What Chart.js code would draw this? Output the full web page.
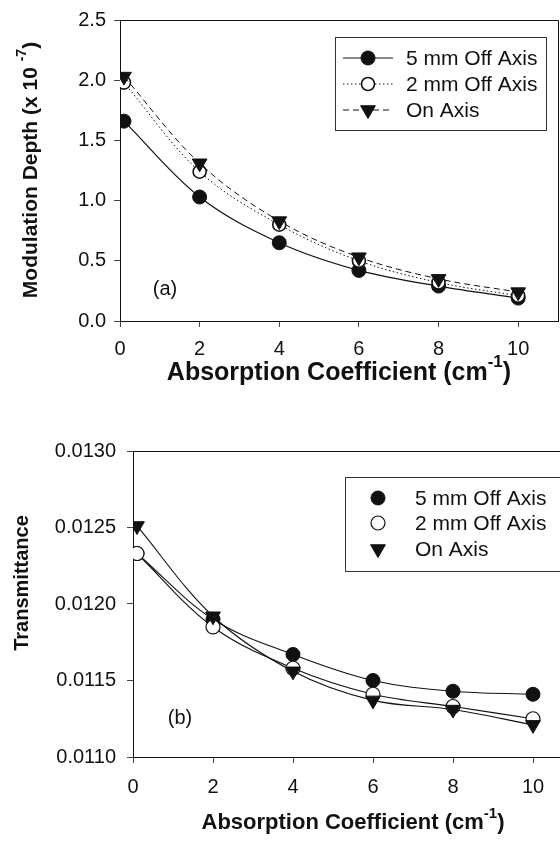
<!DOCTYPE html>
<html>
<head>
<meta charset="utf-8">
<script src="https://cdn.jsdelivr.net/npm/chart.js@4.4.1/dist/chart.umd.min.js"></script>
<style>
html, body { margin: 0; padding: 0; background: #fff; overflow: hidden; }
#page { position: relative; width: 560px; height: 842px; overflow: hidden; }
#topChart { position: absolute; left: 0; top: 0; }
#bottomChart { position: absolute; left: 0; top: 400px; }
</style>
</head>
<body>
<div id="page">
    <canvas id="topChart" width="560" height="400"></canvas>
    <canvas id="bottomChart" width="580" height="442"></canvas>
</div>
<script>
// ---- data ----
const xValues = [0.1, 2, 4, 6, 8, 10];
const xTicks = [0, 2, 4, 6, 8, 10];
const seriesLabels = ['5 mm Off Axis', '2 mm Off Axis', 'On Axis'];

// (a) modulation depth, x 10^-7
const depth5mm = [1.66, 1.03, 0.65, 0.42, 0.29, 0.19];
const depth2mm = [1.98, 1.24, 0.80, 0.50, 0.32, 0.21];
const depthOnAxis = [2.03, 1.31, 0.83, 0.53, 0.35, 0.24];
const depthTicks = [0, 0.5, 1.0, 1.5, 2.0, 2.5];

// (b) transmittance
const trans5mm = [0.01233, 0.01190, 0.01167, 0.01150, 0.01143, 0.01141];
const trans2mm = [0.01233, 0.01185, 0.01158, 0.01141, 0.01133, 0.01125];
const transOnAxis = [0.01251, 0.01192, 0.01156, 0.01137, 0.01131, 0.01121];
const transTicks = [0.0110, 0.0115, 0.0120, 0.0125, 0.0130];

const FONT = '"Liberation Sans", Arial, Helvetica, sans-serif';
const INK = '#111';

function points(ys) {
    return xValues.map((x, i) => ({ x: x, y: ys[i] }));
}

// draws a marker the same way chart.js does for circle / rotated triangle
function drawMarker(ctx, ds, x, y) {
    const r = ds.pointRadius;
    ctx.save();
    ctx.fillStyle = ds.pointBackgroundColor;
    ctx.strokeStyle = ds.pointBorderColor;
    ctx.lineWidth = ds.pointBorderWidth;
    ctx.setLineDash([]);
    ctx.beginPath();
    if (ds.pointStyle === 'triangle') {
        let rad = (ds.pointRotation || 0) * Math.PI / 180;
        ctx.moveTo(x + Math.sin(rad) * r, y - Math.cos(rad) * r);
        rad += 2 * Math.PI / 3;
        ctx.lineTo(x + Math.sin(rad) * r, y - Math.cos(rad) * r);
        rad += 2 * Math.PI / 3;
        ctx.lineTo(x + Math.sin(rad) * r, y - Math.cos(rad) * r);
        ctx.closePath();
    } else {
        ctx.arc(x, y, r, 0, Math.PI * 2);
    }
    ctx.fill();
    ctx.stroke();
    ctx.restore();
}

// text with a superscript part, optionally rotated
function drawRich(ctx, parts, x, y, size, rotate) {
    ctx.save();
    ctx.translate(x, y);
    if (rotate) ctx.rotate(-Math.PI / 2);
    ctx.fillStyle = INK;
    ctx.textBaseline = 'middle';
    ctx.textAlign = 'left';
    const fonts = parts.map(p => `bold ${p.sup ? Math.round(size * 0.68) : size}px ${FONT}`);
    const widths = parts.map((p, i) => { ctx.font = fonts[i]; return ctx.measureText(p.t).width; });
    let cx = -widths.reduce((a, b) => a + b, 0) / 2;
    parts.forEach((p, i) => {
        ctx.font = fonts[i];
        ctx.fillText(p.t, cx, p.sup ? -size * 0.42 : 0);
        cx += widths[i];
    });
    ctx.restore();
}

function makeDecor(cfg) {
    return {
        id: 'decor',
        afterDraw(chart) {
            const ctx = chart.ctx;
            const area = chart.chartArea;
            ctx.save();
            // frame (top / right)
            ctx.strokeStyle = INK;
            ctx.lineWidth = 1;
            ctx.beginPath();
            ctx.moveTo(area.left, area.top + 0.5);
            ctx.lineTo(area.right + 0.5, area.top + 0.5);
            ctx.lineTo(area.right + 0.5, area.bottom);
            ctx.stroke();

            // legend
            const lg = cfg.legend;
            ctx.strokeStyle = '#333';
            ctx.strokeRect(lg.x + 0.5, lg.y + 0.5, lg.w, lg.h);
            ctx.font = `${lg.size}px ${FONT}`;
            ctx.textBaseline = 'middle';
            ctx.fillStyle = INK;
            chart.data.datasets.forEach((ds, i) => {
                const y = lg.rows[i];
                if (lg.lineFrom !== undefined) {
                    ctx.save();
                    ctx.strokeStyle = ds.borderColor;
                    ctx.lineWidth = ds.borderWidth;
                    ctx.setLineDash(ds.borderDash || []);
                    ctx.beginPath();
                    ctx.moveTo(lg.lineFrom, y);
                    ctx.lineTo(lg.lineTo, y);
                    ctx.stroke();
                    ctx.restore();
                }
                drawMarker(ctx, ds, lg.markerX, y);
                ctx.fillStyle = INK;
                ctx.fillText(ds.label, lg.textX, y + 1);
            });

            // panel tag
            ctx.font = `${cfg.tag.size}px ${FONT}`;
            ctx.textAlign = 'center';
            ctx.fillText(cfg.tag.text, cfg.tag.x, cfg.tag.y);
            ctx.restore();

            // axis titles
            drawRich(ctx, cfg.xTitle.parts, (area.left + area.right) / 2, cfg.xTitle.y, cfg.xTitle.size, false);
            drawRich(ctx, cfg.yTitle.parts, cfg.yTitle.x, cfg.yTitle.y, cfg.yTitle.size, true);
        }
    };
}

function axisStyle(extra) {
    return Object.assign({
        type: 'linear',
        border: { display: true, color: INK, width: 1 },
        grid: { drawOnChartArea: false, drawTicks: true, tickLength: 6, color: '#444' },
        ticks: { color: INK, font: { family: FONT, size: 20 } }
    }, extra);
}

// ---------------- (a) ----------------
const topDatasets = [
    {
        label: seriesLabels[0], data: points(depth5mm), order: 3,
        borderColor: INK, borderWidth: 1.2, borderDash: [],
        pointStyle: 'circle', pointRadius: 7, pointBackgroundColor: INK, pointBorderColor: INK, pointBorderWidth: 1
    },
    {
        label: seriesLabels[1], data: points(depth2mm), order: 2,
        borderColor: INK, borderWidth: 1, borderDash: [1.5, 2.5],
        pointStyle: 'circle', pointRadius: 6.5, pointBackgroundColor: '#fff', pointBorderColor: INK, pointBorderWidth: 1.6
    },
    {
        label: seriesLabels[2], data: points(depthOnAxis), order: 1,
        borderColor: INK, borderWidth: 1, borderDash: [6, 4],
        pointStyle: 'triangle', pointRotation: 180, pointRadius: 8.5, pointBackgroundColor: INK, pointBorderColor: INK, pointBorderWidth: 1
    }
];

new Chart(document.getElementById('topChart'), {
    type: 'line',
    data: { datasets: topDatasets.map(d => Object.assign({ tension: 0.35, fill: false }, d)) },
    options: {
        responsive: false,
        animation: false,
        events: [],
        layout: { autoPadding: false, padding: { left: 0, top: 15, right: 2, bottom: 0 } },
        plugins: { legend: { display: false }, tooltip: { enabled: false } },
        scales: {
            x: axisStyle({
                min: 0, max: 11,
                afterBuildTicks: s => { s.ticks = xTicks.map(v => ({ value: v })); },
                afterFit: s => { s.height = 79; },
                ticks: { color: INK, font: { family: FONT, size: 20 }, padding: 10 }
            }),
            y: axisStyle({
                min: 0, max: 2.5,
                afterBuildTicks: s => { s.ticks = depthTicks.map(v => ({ value: v })); },
                afterFit: s => { s.width = 120; },
                ticks: { color: INK, font: { family: FONT, size: 20 }, padding: 8, callback: v => v.toFixed(1) }
            })
        }
    },
    plugins: [makeDecor({
        legend: { x: 335, y: 37, w: 211, h: 93, rows: [58, 84, 110], lineFrom: 343, lineTo: 393, markerX: 368, textX: 406, size: 21 },
        tag: { text: '(a)', x: 165, y: 289, size: 20 },
        xTitle: { y: 373, size: 25, parts: [{ t: 'Absorption Coefficient (cm' }, { t: '-1', sup: true }, { t: ')' }] },
        yTitle: { x: 31, y: 170, size: 21, parts: [{ t: 'Modulation Depth (x 10 ' }, { t: '-7', sup: true }, { t: ')' }] }
    })]
});

// ---------------- (b) ----------------
const bottomDatasets = [
    {
        label: seriesLabels[0], data: points(trans5mm), order: 3,
        borderColor: INK, borderWidth: 1.1,
        pointStyle: 'circle', pointRadius: 7, pointBackgroundColor: INK, pointBorderColor: INK, pointBorderWidth: 1
    },
    {
        label: seriesLabels[1], data: points(trans2mm), order: 2,
        borderColor: INK, borderWidth: 1.1,
        pointStyle: 'circle', pointRadius: 7, pointBackgroundColor: '#fff', pointBorderColor: INK, pointBorderWidth: 1.2
    },
    {
        label: seriesLabels[2], data: points(transOnAxis), order: 1,
        borderColor: INK, borderWidth: 1.1,
        pointStyle: 'triangle', pointRotation: 180, pointRadius: 8.5, pointBackgroundColor: INK, pointBorderColor: INK, pointBorderWidth: 1
    }
];

new Chart(document.getElementById('bottomChart'), {
    type: 'line',
    data: { datasets: bottomDatasets.map(d => Object.assign({ tension: 0.35, fill: false }, d)) },
    options: {
        responsive: false,
        animation: false,
        events: [],
        layout: { autoPadding: false, padding: { left: 0, top: 51, right: 7, bottom: 0 } },
        plugins: { legend: { display: false }, tooltip: { enabled: false } },
        scales: {
            x: axisStyle({
                min: 0, max: 11,
                afterBuildTicks: s => { s.ticks = xTicks.map(v => ({ value: v })); },
                afterFit: s => { s.height = 85; },
                ticks: { color: INK, font: { family: FONT, size: 20 }, padding: 12 }
            }),
            y: axisStyle({
                min: 0.011, max: 0.013,
                afterBuildTicks: s => { s.ticks = transTicks.map(v => ({ value: v })); },
                afterFit: s => { s.width = 133; },
                ticks: { color: INK, font: { family: FONT, size: 20 }, padding: 11, callback: v => v.toFixed(4) }
            })
        }
    },
    plugins: [makeDecor({
        legend: { x: 345, y: 77, w: 240, h: 94, rows: [98, 123, 149], markerX: 378, textX: 415, size: 21 },
        tag: { text: '(b)', x: 180, y: 318, size: 20 },
        xTitle: { y: 423, size: 22, parts: [{ t: 'Absorption Coefficient (cm' }, { t: '-1', sup: true }, { t: ')' }] },
        yTitle: { x: 22, y: 183, size: 20, parts: [{ t: 'Transmittance' }] }
    })]
});
</script>
</body>
</html>
